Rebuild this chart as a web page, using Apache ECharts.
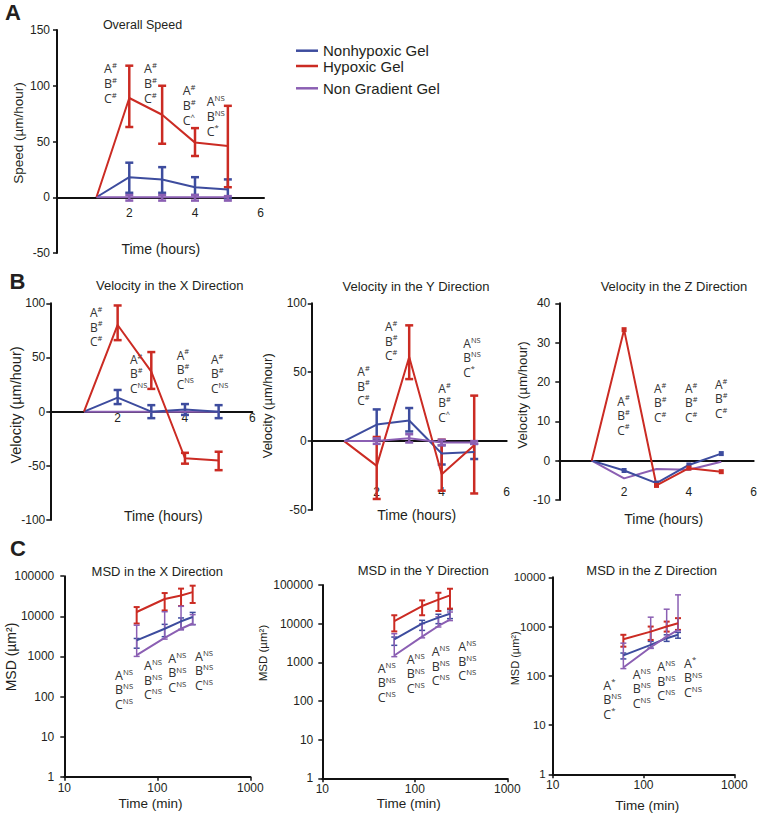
<!DOCTYPE html>
<html><head><meta charset="utf-8">
<script src="https://cdn.jsdelivr.net/npm/echarts@6/dist/echarts.min.js"></script>
<style>html,body{margin:0;padding:0;background:#fff}#c{width:760px;height:817px}</style>
</head><body><div id="c"></div>
<script>
// ================= DATA =================
const seriesNames = ['Nonhypoxic Gel', 'Hypoxic Gel', 'Non Gradient Gel'];
const hours = [1, 2, 3, 4, 5];
const minutes = [60, 120, 180, 240];
const hourTicks = [2, 4, 6];

// A: overall speed (µm/hour)
const speedNon = [0, 18, 16, 9, 7];
const speedNonLo = [null, 4, 4, 2, -1];
const speedNonHi = [null, 31, 27, 18, 16];
const speedHyp = [0, 89, 74, 49, 46];
const speedHypLo = [null, 63, 48, 37, 9];
const speedHypHi = [null, 118, 100, 62, 82];
const speedNG = [0, 0, 0, 0, 0];
const speedNGLo = [null, -3, -3, -3, -3];
const speedNGHi = [null, 2, 2, 2, 1];

// B: velocity X
const velXNon = [0, 13, 0, 2, 0];
const velXNonLo = [null, 7, -6, -3, -6];
const velXNonHi = [null, 20, 6, 7, 6];
const velXHyp = [0, 80, 37, -43, -45];
const velXHypLo = [null, 66, 21, -48, -54];
const velXHypHi = [null, 98, 55, -38, -37];
const velXNG = [0, 0, 0, 0, 0];

// B: velocity Y
const velYNon = [0, 12, 15, -9, -8];
const velYNonLo = [null, 1, 7, -17, -13];
const velYNonHi = [null, 23, 24, -3, -2];
const velYHyp = [0, -18, 61, -24, -3];
const velYHypLo = [null, -42, 45, -36, -38];
const velYHypHi = [null, 3, 84, 1, 33];
const velYNG = [0, 0, 2, -1, -1];
const velYNGLo = [null, -2, -1, -3, -2];
const velYNGHi = [null, 2, 5, 1, 0];

// B: velocity Z
const velZNon = [0, -2.5, -5.7, -1.1, 1.8];
const velZHyp = [0, 33.3, -6.3, -1.9, -2.8];
const velZNG = [0, -4.5, -2.1, -2.3, -0.3];

// C: MSD X (µm²)
const msdXNon = [2500, 4900, 7500, 9600];
const msdXNonLo = [1600, 3100, 4700, 6200];
const msdXNonHi = [2800, 6300, 9100, 12500];
const msdXHyp = [12800, 27000, 33000, 40000];
const msdXHypLo = [6600, 14000, 18000, 21500];
const msdXHypHi = [17000, 38000, 49000, 58000];
const msdXNG = [1080, 2900, 4900, 6600];
const msdXNGLo = [1000, 2700, 4600, 6200];
const msdXNGHi = [6000, 13000, 17800, 11000];

// C: MSD Y
const msdYNon = [3900, 10000, 14300, 18000];
const msdYNonLo = [2750, 6700, 10000, 13500];
const msdYNonHi = [4500, 12200, 17500, 23000];
const msdYHyp = [11700, 28600, 41800, 54000];
const msdYHypLo = [6300, 16500, 21300, 24500];
const msdYHypHi = [16500, 40000, 63000, 80000];
const msdYNG = [1500, 4600, 8700, 12700];
const msdYNGLo = [1400, 4300, 8200, 12000];
const msdYNGHi = [5500, 10000, 15000, 20000];

// C: MSD Z
const msdZNon = [260, 425, 580, 680];
const msdZNonLo = [220, 365, 500, 580];
const msdZNonHi = [290, 500, 680, 760];
const msdZHyp = [553, 790, 1000, 1170];
const msdZHypLo = [390, 535, 790, 855];
const msdZHypHi = [680, 1000, 1260, 1480];
const msdZNG = [147, 380, 625, 855];
const msdZNGLo = [140, 360, 600, 820];
const msdZNGHi = [460, 1550, 2250, 4400];

// significance annotations (superscripts for A, B, C)
const annSpeed = [['#','#','#'],['#','#','#'],['#','#','^'],['NS','NS','*']];
const annVelX  = [['#','#','#'],['#','#','NS'],['#','#','NS'],['#','#','NS']];
const annVelY  = [['#','#','#'],['#','#','#'],['#','#','^'],['NS','NS','*']];
const annVelZ  = [['#','#','#'],['#','#','#'],['#','#','#'],['#','#','#']];
const annMsdX  = [['NS','NS','NS'],['NS','NS','NS'],['NS','NS','NS'],['NS','NS','NS']];
const annMsdY  = [['NS','NS','NS'],['NS','NS','NS'],['NS','NS','NS'],['NS','NS','NS']];
const annMsdZ  = [['*','NS','*'],['NS','NS','NS'],['NS','NS','NS'],['*','NS','NS']];

// ================= STYLE / LAYOUT =================
const COL = ['#3d4c9e', '#cb2b23', '#8b5fb3'];
const FONT = 'Liberation Sans, Arial, sans-serif';
const AFONT = 'Open Sans, Liberation Sans, sans-serif';
const TXT = '#231f20';

const grids = [
  {left: 57,    top: 30,    width: 207,   height: 223},   // A
  {left: 50.3,  top: 303.3, width: 202,   height: 216.7}, // BX
  {left: 311.7, top: 303.3, width: 195,   height: 206.7}, // BY
  {left: 559.3, top: 303.3, width: 198.7, height: 196.7}, // BZ
  {left: 64.3,  top: 576.2, width: 186,   height: 200.5}, // CX
  {left: 322.3, top: 585,   width: 185,   height: 193.3}, // CY
  {left: 552.7, top: 577.3, width: 181.6, height: 197}    // CZ
];

const axLine = {show: true, onZero: true, lineStyle: {color: '#111', width: 2}};
const tickLbl = (sz, m) => ({color: TXT, fontFamily: FONT, fontSize: sz, margin: m});

// hour-axis labels are measured from the grid's bottom edge (negative = upward)
const xAxes = [
  {gridIndex: 0, type: 'value', min: -0.2, max: 6.1, axisLine: axLine, axisTick: {show: false}, splitLine: {show: false},
   axisLabel: Object.assign(tickLbl(12, -46), {customValues: hourTicks})},
  {gridIndex: 1, type: 'value', min: 0, max: 6, axisLine: axLine, axisTick: {show: false}, splitLine: {show: false},
   axisLabel: Object.assign(tickLbl(12, -108), {customValues: hourTicks})},
  {gridIndex: 2, type: 'value', min: 0, max: 6, axisLine: axLine, axisTick: {show: false}, splitLine: {show: false},
   axisLabel: Object.assign(tickLbl(12, -24), {customValues: hourTicks})},
  {gridIndex: 3, type: 'value', min: 0, max: 6, axisLine: axLine, axisTick: {show: false}, splitLine: {show: false},
   axisLabel: Object.assign(tickLbl(12, -14), {customValues: hourTicks})}
];
[4, 5, 6].forEach(g => xAxes.push({gridIndex: g, type: 'log', logBase: 10, min: 10, max: 1000,
  axisLine: {show: true, onZero: false, lineStyle: {color: '#111', width: 2}},
  axisTick: {show: true, length: 4, lineStyle: {color: '#111', width: 1.5}}, splitLine: {show: false}, minorTick: {show: false},
  axisLabel: Object.assign(tickLbl(12, 5), {formatter: v => String(Math.round(v))})}));

const yTick = {show: true, length: 4, lineStyle: {color: '#111', width: 1.5}};
const yLine = {show: true, onZero: false, lineStyle: {color: '#111', width: 2}};
const yAxes = [
  {gridIndex: 0, type: 'value', min: -50, max: 150, interval: 50, axisLine: yLine, axisTick: yTick, splitLine: {show: false}, axisLabel: tickLbl(12, 7)},
  {gridIndex: 1, type: 'value', min: -100, max: 100, interval: 50, axisLine: yLine, axisTick: yTick, splitLine: {show: false}, axisLabel: tickLbl(12, 5)},
  {gridIndex: 2, type: 'value', min: -50, max: 100, interval: 50, axisLine: yLine, axisTick: yTick, splitLine: {show: false}, axisLabel: tickLbl(12, 5)},
  {gridIndex: 3, type: 'value', min: -10, max: 40, interval: 10, axisLine: yLine, axisTick: yTick, splitLine: {show: false}, axisLabel: tickLbl(12, 9)},
  {gridIndex: 4, type: 'log', logBase: 10, min: 1, max: 100000, axisLine: yLine, axisTick: yTick, splitLine: {show: false},
   axisLabel: Object.assign(tickLbl(12, 10), {formatter: v => String(Math.round(v))})},
  {gridIndex: 5, type: 'log', logBase: 10, min: 1, max: 100000, axisLine: yLine, axisTick: yTick, splitLine: {show: false},
   axisLabel: Object.assign(tickLbl(12, 9), {formatter: v => String(Math.round(v))})},
  {gridIndex: 6, type: 'log', logBase: 10, min: 1, max: 10000, axisLine: yLine, axisTick: yTick, splitLine: {show: false},
   axisLabel: Object.assign(tickLbl(11.5, 7), {formatter: v => String(Math.round(v))})}
];

const series = [];
function addLine(ai, xs, ys, ci, sym) {
  series.push({
    type: 'line', name: seriesNames[ci], xAxisIndex: ai, yAxisIndex: ai, color: COL[ci],
    // the shared starting point (first sample) carries no marker
    data: xs.map((x, i) => sym && i === 0 ? {value: [x, ys[i]], symbolSize: 0} : [x, ys[i]]),
    symbol: sym ? 'rect' : 'none', symbolSize: 5, showSymbol: !!sym,
    lineStyle: {width: 2, color: COL[ci]}, itemStyle: {color: COL[ci]},
    silent: true, z: 3
  });
}
function addErr(ai, xs, lo, hi, ci, lw, cap) {
  const d = [];
  xs.forEach((x, i) => { if (lo[i] != null) d.push([x, lo[i], hi[i]]); });
  series.push({
    type: 'custom', xAxisIndex: ai, yAxisIndex: ai, silent: true, z: 3, data: d,
    renderItem: (p, api) => {
      const a = api.coord([api.value(0), api.value(1)]);
      const b = api.coord([api.value(0), api.value(2)]);
      const st = {stroke: COL[ci], lineWidth: lw};
      return {type: 'group', children: [
        {type: 'line', shape: {x1: a[0], y1: a[1], x2: b[0], y2: b[1]}, style: st},
        {type: 'line', shape: {x1: a[0] - cap, y1: a[1], x2: a[0] + cap, y2: a[1]}, style: st},
        {type: 'line', shape: {x1: b[0] - cap, y1: b[1], x2: b[0] + cap, y2: b[1]}, style: st}
      ]};
    }
  });
}

// A
addErr(0, hours, speedNonLo, speedNonHi, 0, 2.5, 4); addLine(0, hours, speedNon, 0);
addErr(0, hours, speedHypLo, speedHypHi, 1, 2.5, 4); addLine(0, hours, speedHyp, 1);
addErr(0, hours, speedNGLo, speedNGHi, 2, 2.5, 4);  addLine(0, hours, speedNG, 2);
// BX
addLine(1, hours, velXNG, 2);
addErr(1, hours, velXNonLo, velXNonHi, 0, 2.5, 4); addLine(1, hours, velXNon, 0);
addErr(1, hours, velXHypLo, velXHypHi, 1, 2.5, 4); addLine(1, hours, velXHyp, 1);
// BY
addErr(2, hours, velYNonLo, velYNonHi, 0, 2.5, 4); addLine(2, hours, velYNon, 0);
addErr(2, hours, velYHypLo, velYHypHi, 1, 2.5, 4); addLine(2, hours, velYHyp, 1);
addErr(2, hours, velYNGLo, velYNGHi, 2, 2.5, 4);   addLine(2, hours, velYNG, 2);
// BZ
addLine(3, hours, velZNG, 2);
addLine(3, hours, velZNon, 0, true);
addLine(3, hours, velZHyp, 1, true);
// CX
addErr(4, minutes, msdXNonLo, msdXNonHi, 0, 1.5, 3); addLine(4, minutes, msdXNon, 0);
addErr(4, minutes, msdXHypLo, msdXHypHi, 1, 2, 3);   addLine(4, minutes, msdXHyp, 1);
addErr(4, minutes, msdXNGLo, msdXNGHi, 2, 1.5, 3);   addLine(4, minutes, msdXNG, 2);
// CY
addErr(5, minutes, msdYNonLo, msdYNonHi, 0, 1.5, 3); addLine(5, minutes, msdYNon, 0);
addErr(5, minutes, msdYHypLo, msdYHypHi, 1, 2, 3);   addLine(5, minutes, msdYHyp, 1);
addErr(5, minutes, msdYNGLo, msdYNGHi, 2, 1.5, 3);   addLine(5, minutes, msdYNG, 2);
// CZ
addErr(6, minutes, msdZNonLo, msdZNonHi, 0, 1.5, 3); addLine(6, minutes, msdZNon, 0);
addErr(6, minutes, msdZHypLo, msdZHypHi, 1, 2, 3);   addLine(6, minutes, msdZHyp, 1);
addErr(6, minutes, msdZNGLo, msdZNGHi, 2, 1.5, 3);   addLine(6, minutes, msdZNG, 2);

// ---------- text ----------
const graphic = [];
function txt(s, x, y, size, opt) {
  opt = opt || {};
  graphic.push({type: 'text', x: x, y: y, rotation: opt.rot || 0, silent: true,
    style: {text: s, fill: TXT, fontFamily: FONT, fontSize: size, fontWeight: opt.bold ? 'bold' : 'normal',
      align: 'center', verticalAlign: 'middle', textAlign: 'center', textVerticalAlign: 'middle'}});
}
// panel letters
txt('A', 13, 12.5, 22, {bold: true});
txt('B', 17.5, 281.7, 22, {bold: true});
txt('C', 18, 548.7, 22, {bold: true});
// titles
txt('Overall Speed', 142.5, 25.3, 12.5);
txt('Velocity in the X Direction', 169.7, 285.5, 13);
txt('Velocity in the Y Direction', 416, 286.7, 13);
txt('Velocity in the Z Direction', 674, 286.7, 13);
txt('MSD in the X Direction', 157.3, 571, 13);
txt('MSD in the Y Direction', 423.3, 570.5, 13);
txt('MSD in the Z Direction', 651.7, 570.5, 13);
// axis names
const R = Math.PI / 2;
txt('Speed (µm/hour)', 18.3, 133, 13.5, {rot: R});
txt('Velocity (µm/hour)', 16, 405, 14.5, {rot: R});
txt('Velocity (µm/hour)', 267.5, 405.8, 13, {rot: R});
txt('Velocity (µm/hour)', 522.5, 395, 13.3, {rot: R});
txt('MSD (µm²)', 11, 657, 14, {rot: R});
txt('MSD (µm²)', 263.3, 653, 11.5, {rot: R});
txt('MSD (µm²)', 515, 658.3, 11, {rot: R});
txt('Time (hours)', 160.8, 249, 14);
txt('Time (hours)', 163.3, 515.8, 14);
txt('Time (hours)', 416.7, 515, 14);
txt('Time (hours)', 663.7, 519.2, 14);
txt('Time (min)', 150.5, 803, 13.5);
txt('Time (min)', 408.8, 803, 13.5);
txt('Time (min)', 647.2, 805, 13.5);

// annotations: [left x, first-row centre y]
function ann(groups, pos, size, lh) {
  groups.forEach((g, i) => {
    const s = ['A', 'B', 'C'].map((L, k) => '{m|' + L + '}{s|' + g[k] + '}').join('\n');
    graphic.push({type: 'text', x: pos[i][0], y: pos[i][1] - lh / 2, silent: true,
      style: {text: s, align: 'left', verticalAlign: 'top', textAlign: 'left', textVerticalAlign: 'top',
        rich: {
          m: {fontSize: size, fontFamily: AFONT, fill: '#333', color: '#333', lineHeight: lh},
          s: {fontSize: size * 0.62, fontFamily: AFONT, fill: '#333', color: '#333', lineHeight: lh * 0.5, verticalAlign: 'top'}
        }}});
  });
}
ann(annSpeed, [[104, 68.3], [144, 68.3], [182.7, 90], [206.7, 101.7]], 12.5, 15);
ann(annVelX, [[90, 312.7], [130, 359.3], [176.7, 355], [211, 359.3]], 12, 14.5);
ann(annVelY, [[357.3, 371.7], [385, 326.7], [438.3, 388.3], [463.3, 343.3]], 12, 14.5);
ann(annVelZ, [[617.3, 401], [654, 388.3], [685, 388.3], [715, 384.3]], 12, 14.5);
ann(annMsdX, [[115, 675], [144, 665.7], [168.3, 658.3], [195, 656]], 12.5, 14.5);
ann(annMsdY, [[377.7, 668.3], [406.7, 659.3], [431.7, 651.7], [458.3, 646.7]], 12.5, 14.5);
ann(annMsdZ, [[603.3, 685], [632.7, 674], [657.3, 666.7], [684, 663.3]], 12.5, 14.5);

const legTxt = {fontSize: 15, fontFamily: FONT, color: TXT};
const legend = [[0, 43.2], [1, 58.5], [2, 80.8]].map(([i, t]) => ({
  data: [seriesNames[i]], left: 296, top: t, padding: 0, orient: 'vertical',
  icon: 'rect', itemWidth: 22, itemHeight: 2.5, selectedMode: false, textStyle: legTxt
}));

const chart = echarts.init(document.getElementById('c'), null, {renderer: 'svg', width: 760, height: 817});
chart.setOption({
  animation: false, backgroundColor: '#fff',
  grid: grids, xAxis: xAxes, yAxis: yAxes, series: series, graphic: graphic, legend: legend
});
</script></body></html>
